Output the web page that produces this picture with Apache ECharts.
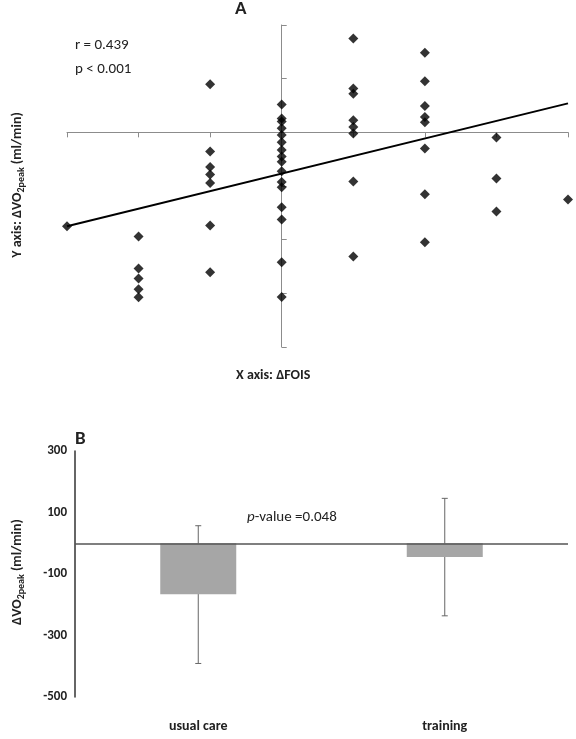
<!DOCTYPE html>
<html lang="en">
<head>
  <meta charset="UTF-8">
  <title>VO2peak</title>
  <style>
    html,body { width:100%; height:100%; margin:0; background:#fff; }
  </style>
</head>
<body>
  <div id="chart" style="width:576px;height:739px"></div>
  <script src="https://cdn.jsdelivr.net/npm/echarts@6/dist/echarts.min.js"></script>
  <script>
    // panel A: change in FOIS vs change in VO2peak
    var foisX = [-3, -2, -2, -2, -2, -2, -1, -1, -1, -1, -1, -1, -1,
      0, 0, 0, 0, 0, 0, 0, 0, 0, 0, 0, 0, 0, 0, 0, 0,
      1, 1, 1, 1, 1, 1, 1, 1, 2, 2, 2, 2, 2, 2, 2, 2, 3, 3, 3, 4];
    var vo2Y = [-350, -388, -507, -545, -585, -615, 179, -71, -129, -157, -189, -347, -521,
      104, 52, 40, 15, -10, -37, -66, -90, -110, -145, -185, -205, -279, -325, -484, -614,
      350, 163, 144, 45, 20, -4, -183, -463, 297, 190, 98, 57, 38, -60, -231, -410, -19, -172, -295, -250];
    var trendX = [-3, 4];
    var trendY = [-350, 108];
    var xTicksA = [-3, -2, -1, 1, 2, 3, 4];
    var yTicksA = [-800, -600, -400, -200, 0, 200, 400];

    // panel B: group means with error bars
    var groups = ['usual care', 'training'];
    var groupMean = [-166, -45];
    var groupLow = [-391, -236];
    var groupHigh = [57, 146];

    var myChart = echarts.init(document.getElementById('chart'));
    var font = 'Calibri, Carlito, "Open Sans", sans-serif';
    var axisGrey = '#8c8c8c';

    var scatterData = foisX.map(function (x, i) { return [x, vo2Y[i]]; });
    var trendData = trendX.map(function (x, i) { return [x, trendY[i]]; });
    var errData = groups.map(function (g, i) { return [i, groupLow[i], groupHigh[i]]; });
    var tickLabel = { color: '#222', fontSize: 13, fontWeight: 'bold', fontFamily: font };

    var option = {
      animation: false,
      textStyle: { fontFamily: font },
      grid: [
        { left: 67, right: 8, top: 25, height: 322 },
        { left: 75, right: 8, top: 451, height: 246 }
      ],
      xAxis: [{
        gridIndex: 0, type: 'value', min: -3, max: 4, interval: 1,
        axisLine: { onZero: true, lineStyle: { color: axisGrey } },
        axisTick: { show: true, length: 5, lineStyle: { color: axisGrey } },
        axisLabel: { show: false },
        splitLine: { show: false }
      }, {
        gridIndex: 1, type: 'category', data: groups,
        axisLine: { show: false }, axisTick: { show: false },
        axisLabel: { color: '#222', fontSize: 14, fontWeight: 'bold', margin: 22 }
      }],
      yAxis: [{
        gridIndex: 0, type: 'value', min: -800, max: 400, interval: 200,
        axisLine: { show: true, onZero: true, lineStyle: { color: axisGrey } },
        axisTick: { show: true, length: 5, inside: true, lineStyle: { color: axisGrey } },
        axisLabel: { show: false },
        splitLine: { show: false }
      }, {
        gridIndex: 1, type: 'value', min: -500, max: 300, interval: 200,
        axisLine: { show: true, lineStyle: { color: '#333', width: 1.5 } },
        axisTick: { show: false },
        axisLabel: { color: '#222', fontSize: 13, fontWeight: 'bold', margin: 8 },
        splitLine: { show: false }
      }],
      series: [{
        type: 'scatter', xAxisIndex: 0, yAxisIndex: 0, silent: true,
        symbol: 'none',
        label: { show: true, position: 'bottom', distance: 8, formatter: function (p) { return p.value[0]; }, ...tickLabel },
        data: xTicksA.map(function (v) { return [v, 0]; })
      }, {
        type: 'scatter', xAxisIndex: 0, yAxisIndex: 0, silent: true,
        symbol: 'none',
        label: { show: true, position: 'left', distance: 6, formatter: function (p) { return p.value[1]; }, ...tickLabel },
        data: yTicksA.map(function (v) { return [0, v]; })
      }, {
        type: 'scatter', xAxisIndex: 0, yAxisIndex: 0,
        symbol: 'diamond', symbolSize: 10,
        itemStyle: { color: '#000' },
        data: scatterData
      }, {
        type: 'line', xAxisIndex: 0, yAxisIndex: 0,
        symbol: 'none', lineStyle: { color: '#000', width: 2 },
        data: trendData
      }, {
        type: 'bar', xAxisIndex: 1, yAxisIndex: 1,
        barWidth: 76, itemStyle: { color: '#a6a6a6' },
        data: groupMean,
        markLine: {
          silent: true, symbol: 'none', label: { show: false },
          lineStyle: { color: '#555', type: 'solid', width: 1.5 },
          data: [{ yAxis: 0 }]
        }
      }, {
        type: 'custom', xAxisIndex: 1, yAxisIndex: 1,
        data: errData,
        renderItem: function (params, api) {
          var lo = api.coord([api.value(0), api.value(1)]);
          var hi = api.coord([api.value(0), api.value(2)]);
          var w = 3;
          var st = { stroke: '#666', lineWidth: 1 };
          return {
            type: 'group',
            children: [
              { type: 'line', shape: { x1: lo[0], y1: lo[1], x2: hi[0], y2: hi[1] }, style: st },
              { type: 'line', shape: { x1: lo[0] - w, y1: lo[1], x2: lo[0] + w, y2: lo[1] }, style: st },
              { type: 'line', shape: { x1: hi[0] - w, y1: hi[1], x2: hi[0] + w, y2: hi[1] }, style: st }
            ]
          };
        }
      }],
      graphic: [
        { type: 'text', left: 235, top: 0, style: { text: 'A', font: 'bold 19px ' + font, fill: '#222' } },
        { type: 'text', left: 75, top: 38, style: { text: 'r = 0.439', font: '15px ' + font, fill: '#222' } },
        { type: 'text', left: 75, top: 62, style: { text: 'p < 0.001', font: '15px ' + font, fill: '#222' } },
        { type: 'text', left: 236, top: 368, style: { text: 'X axis: ΔFOIS', font: 'bold 14px ' + font, fill: '#222' } },
        {
          type: 'text', x: 8, y: 185, rotation: Math.PI / 2, style: {
            text: '{b|Y axis: ΔVO}{s|2peak}{b| (ml/min)}', align: 'center', verticalAlign: 'top',
            rich: { b: { font: 'bold 14px ' + font, fill: '#222' }, s: { font: 'bold 10px ' + font, fill: '#222', padding: [8, 0, 0, 0] } }
          }
        },
        { type: 'text', left: 75, top: 430, style: { text: 'B', font: 'bold 19px ' + font, fill: '#222' } },
        {
          type: 'text', left: 247, top: 510, style: {
            text: '{i|p}{n|-value =0.048}',
            rich: { i: { font: 'italic 15px ' + font, fill: '#222' }, n: { font: '15px ' + font, fill: '#222' } }
          }
        },
        {
          type: 'text', x: 8, y: 572, rotation: Math.PI / 2, style: {
            text: '{b|ΔVO}{s|2peak}{b| (ml/min)}', align: 'center', verticalAlign: 'top',
            rich: { b: { font: 'bold 14px ' + font, fill: '#222' }, s: { font: 'bold 10px ' + font, fill: '#222', padding: [8, 0, 0, 0] } }
          }
        }
      ]
    };
    myChart.setOption(option);
  </script>
</body>
</html>
